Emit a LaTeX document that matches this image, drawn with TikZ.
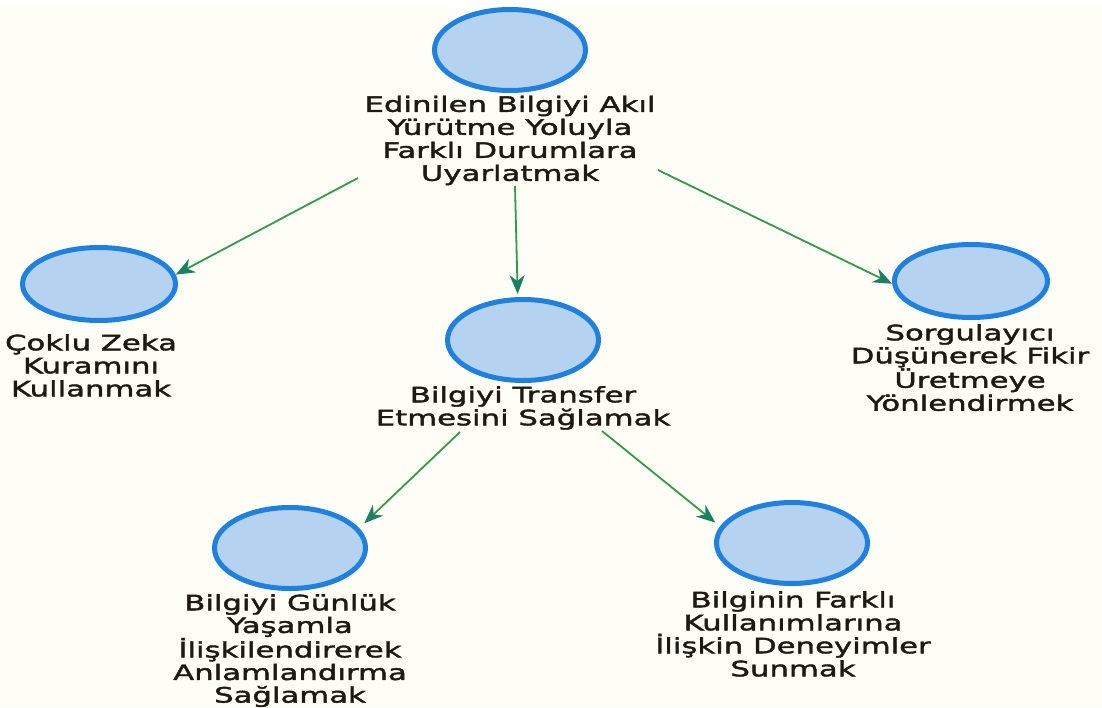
\documentclass[tikz,border=0pt]{standalone}
\usepackage{fontspec}
\usetikzlibrary{arrows.meta,shapes.geometric}
\newfontfamily\lblfont[FakeStretch=1.45,FakeBold=1.8]{DejaVu Sans}
\definecolor{bgcream}{HTML}{FEFDF6}
\definecolor{ringblue}{HTML}{1F80DD}
\definecolor{fillblue}{HTML}{B5D3F0}
\definecolor{linkgreen}{HTML}{33994C}
\definecolor{headgreen}{HTML}{1C8060}
\definecolor{labelink}{HTML}{1E1A12}

\begin{document}
\begin{tikzpicture}[x=1pt,y=-1pt,
  topic/.style={ellipse, draw=ringblue, fill=fillblue, line width=5pt,
    minimum width=151pt, minimum height=81pt, inner sep=0pt},
  flat/.style={minimum width=153pt, minimum height=73pt},
  caption/.style={anchor=north, align=center, inner sep=0pt, text=labelink,
    font=\lblfont\fontsize{21.2}{23}\selectfont},
  link/.style={draw=linkgreen, line width=1.8pt,
    -{Stealth[length=19pt,width=15pt,inset=6pt,color=headgreen]}}
]
% canvas
\fill[bgcream] (0,0) rectangle (1102,707);
\fill[white] (0,0) rectangle (1102,6);
\useasboundingbox (0,0) rectangle (1102,707);

% concept bubbles
\node[topic] (n0) at (510,50) {};
\node[topic,flat] (n1) at (99,284) {};
\node[topic] (n2) at (523,340) {};
\node[topic,flat] (n3) at (971,281) {};
\node[topic] (n4) at (290,548) {};
\node[topic] (n5) at (792,543) {};

% captions under the bubbles
\node[caption] (t0) at (510,95.5) {Edinilen Bilgiyi Akıl\\Yürütme Yoluyla\\Farklı Durumlara\\Uyarlatmak};
\node[caption] (t1) at (91,334) {Çoklu Zeka\\Kuramını\\Kullanmak};
\node[caption] (t2) at (523,386) {Bilgiyi Transfer\\Etmesini Sağlamak};
\node[caption] (t3) at (970,324) {Sorgulayıcı\\Düşünerek Fikir\\Üretmeye\\Yönlendirmek};
\node[caption, font=\lblfont\fontsize{21.2}{22.6}\selectfont] (t4) at (290,594) {Bilgiyi Günlük\\Yaşamla\\İlişkilendirerek\\Anlamlandırma\\Sağlamak};
\node[caption] (t5) at (793,591) {Bilginin Farklı\\Kullanımlarına\\İlişkin Deneyimler\\Sunmak};

% link origins just below the captions
\coordinate (s1) at (358,178);
\coordinate (s2) at (515,186);
\coordinate (s3) at (658,170);
\coordinate (s4) at (460,432);
\coordinate (s5) at (602,431);

% links
\draw[link] (s1) -- (n1.7);
\draw[link, shorten >=3pt] (s2) -- (n2.97);
\draw[link] (s3) -- (n3.182);
\draw[link, shorten >=7pt] (s4) -- (n4.16);
\draw[link, shorten >=6pt] (s5) -- (n5.167);
\end{tikzpicture}
\end{document}
